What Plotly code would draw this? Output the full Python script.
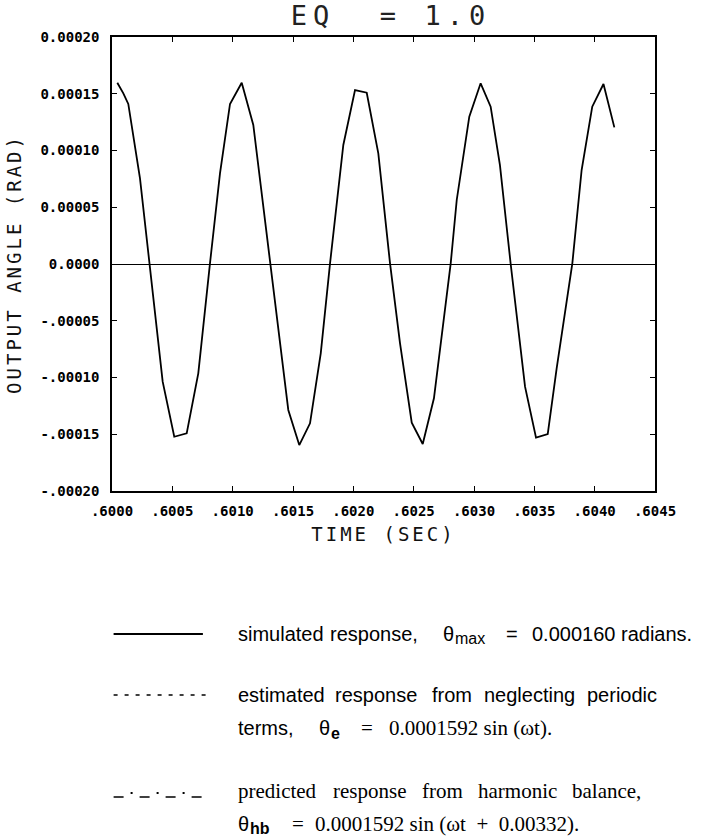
import plotly.graph_objects as go

# ---------------- data ----------------
time_s = [0.600044, 0.600094, 0.600135, 0.600232, 0.600420, 0.600516, 0.600619,
          0.600715, 0.600812, 0.600895, 0.600978, 0.601075, 0.601171, 0.601461,
          0.601552, 0.601641, 0.601730, 0.601807, 0.601917, 0.602014, 0.602111,
          0.602207, 0.602304, 0.602387, 0.602484, 0.602575, 0.602668, 0.602732,
          0.602807, 0.602857, 0.602961, 0.603055, 0.603138, 0.603215, 0.603304,
          0.603423, 0.603514, 0.603611, 0.603685, 0.603815, 0.603892, 0.603980,
          0.604073, 0.604163]
angle_rad = [1.597e-4, 1.504e-4, 1.410e-4, 0.755e-4, -1.037e-4, -1.522e-4, -1.492e-4,
             -0.963e-4, 0.006e-4, 0.799e-4, 1.410e-4, 1.597e-4, 1.225e-4, -1.286e-4,
             -1.595e-4, -1.404e-4, -0.787e-4, 0.006e-4, 1.049e-4, 1.533e-4, 1.509e-4,
             0.975e-4, 0.006e-4, -0.699e-4, -1.398e-4, -1.586e-4, -1.183e-4, -0.655e-4,
             0.006e-4, 0.564e-4, 1.298e-4, 1.592e-4, 1.386e-4, 0.872e-4, 0.0,
             -1.081e-4, -1.530e-4, -1.498e-4, -0.919e-4, 0.006e-4, 0.828e-4, 1.386e-4,
             1.586e-4, 1.204e-4]

x_ticks = [0.6000, 0.6005, 0.6010, 0.6015, 0.6020, 0.6025, 0.6030, 0.6035, 0.6040, 0.6045]
x_tick_labels = [".6000", ".6005", ".6010", ".6015", ".6020", ".6025", ".6030",
                 ".6035", ".6040", ".6045"]
y_ticks = [-0.00020, -0.00015, -0.00010, -0.00005, 0.0, 0.00005, 0.00010, 0.00015, 0.00020]
y_tick_labels = ["-.00020", "-.00015", "-.00010", "-.00005", "0.0000",
                 "0.00005", "0.00010", "0.00015", "0.00020"]

title_text = "EQ\u00a0\u00a0=\u00a01.0"
x_title = "TIME (SEC)"
y_title = "OUTPUT ANGLE (RAD)\u00a0\u00a0"

# ---------------- layout geometry ----------------
W, H = 708, 840
L, R, T, B = 112, 53, 37, 349
PW = W - L - R
PH = H - T - B

def pxx(x):
    return (x - L) / PW

def pxy(y):
    return (H - B - y) / PH

MONO = "DejaVu Sans Mono"
SANS = "Liberation Sans"
SERIF = "Liberation Serif"

fig = go.Figure()
fig.add_trace(go.Scatter(x=time_s, y=angle_rad, mode="lines",
                         line=dict(color="black", width=1.8),
                         showlegend=False, hoverinfo="skip"))

axis_common = dict(
    ticks="inside", ticklen=5, tickwidth=1.3, tickcolor="black",
    showline=True, linecolor="black", linewidth=1.5, mirror="ticks",
    showgrid=False, automargin=False,
    tickfont=dict(family=MONO, size=14, color="black", weight="bold"),
)

fig.update_xaxes(range=[0.6, 0.6045], tickmode="array", tickvals=x_ticks,
                 ticktext=x_tick_labels, zeroline=False, ticklabelstandoff=6,
                 title=dict(text=x_title, font=dict(family=MONO, size=19, color="#111"),
                            standoff=10),
                 **axis_common)
fig.update_yaxes(range=[-0.0002, 0.0002], tickmode="array", tickvals=y_ticks,
                 ticktext=y_tick_labels, zeroline=True, zerolinecolor="black",
                 zerolinewidth=1.3, ticklabelstandoff=8,
                 title=dict(text=y_title, font=dict(family=MONO, size=19, color="#111"),
                            standoff=14),
                 **axis_common)

# ---------------- legend block (keys + text) ----------------
shapes = [
    dict(type="line", xref="paper", yref="paper", x0=pxx(113.6), x1=pxx(202.9),
         y0=pxy(634), y1=pxy(634), line=dict(color="black", width=1.8)),
    dict(type="line", xref="paper", yref="paper", x0=pxx(113.6), x1=pxx(206.8),
         y0=pxy(695), y1=pxy(695), line=dict(color="black", width=1.5, dash="4px,7px")),
    dict(type="line", xref="paper", yref="paper", x0=pxx(113.6), x1=pxx(201.6),
         y0=pxy(797), y1=pxy(797), line=dict(color="black", width=1.5, dash="10px,16px")),
    dict(type="line", xref="paper", yref="paper", x0=pxx(130.6), x1=pxx(185),
         y0=pxy(793), y1=pxy(793), line=dict(color="black", width=1.8, dash="2px,24px")),
]

legend_items = [
    # text, x px, y px, family, size, bold
    ("simulated", 235.9, 634, SANS, 20, False),
    ("response,", 328.3, 634, SANS, 20, False),
    ("\u03b8", 440.8, 634, SANS, 20, False),
    ("max", 453.3, 639, SANS, 16, False),
    ("=", 503.7, 634, SANS, 20, False),
    ("0.000160", 530.1, 634, SANS, 20, False),
    ("radians.", 619.4, 634, SANS, 20, False),

    ("estimated", 235.9, 695, SANS, 20, False),
    ("response", 332.9, 695, SANS, 20, False),
    ("from", 430.0, 695, SANS, 20, False),
    ("neglecting", 482.4, 695, SANS, 20, False),
    ("periodic", 585.2, 695, SANS, 20, False),

    ("terms,", 235.9, 728, SANS, 20, False),
    ("\u03b8", 317.4, 728, SANS, 20, False),
    ("e", 329.0, 733, SANS, 16, True),
    ("=", 359.3, 728, SERIF, 21, False),
    ("0.0001592 sin (\u03c9t).", 387.3, 728, SERIF, 21, False),

    ("predicted", 235.9, 791, SERIF, 21, False),
    ("response", 331.0, 791, SERIF, 21, False),
    ("from", 420.3, 791, SERIF, 21, False),
    ("harmonic", 475.8, 791, SERIF, 21, False),
    ("balance,", 569.7, 791, SERIF, 21, False),

    ("\u03b8", 235.9, 824, SANS, 20, False),
    ("hb", 247.5, 828, SANS, 16, True),
    ("=", 290.2, 824, SERIF, 21, False),
    ("0.0001592 sin (\u03c9t\u00a0\u00a0+\u00a0\u00a00.00332).", 312.7, 824, SERIF, 21, False),
]

annotations = []
for text, x, y, fam, size, bold in legend_items:
    annotations.append(dict(
        text=text, x=pxx(x), y=pxy(y), xref="paper", yref="paper",
        xanchor="left", yanchor="middle", showarrow=False,
        font=dict(family=fam, size=size, color="black",
                  weight="bold" if bold else "normal"),
    ))

fig.update_layout(
    template="none",
    width=W, height=H,
    margin=dict(l=L, r=R, t=T, b=B, pad=0),
    paper_bgcolor="white", plot_bgcolor="white",
    title=dict(text=title_text, x=391 / W, xref="container", xanchor="center",
               y=1 - 16 / H, yref="container", yanchor="middle",
               font=dict(family=MONO, size=27, color="#222")),
    shapes=shapes,
    annotations=annotations,
    showlegend=False,
)

post = ("var s=document.createElement('style');"
        "s.textContent='.gtitle{letter-spacing:6px}.xtitle,.ytitle{letter-spacing:3px}';"
        "document.head.appendChild(s);")
fig.write_html("out.html", post_script=post)
